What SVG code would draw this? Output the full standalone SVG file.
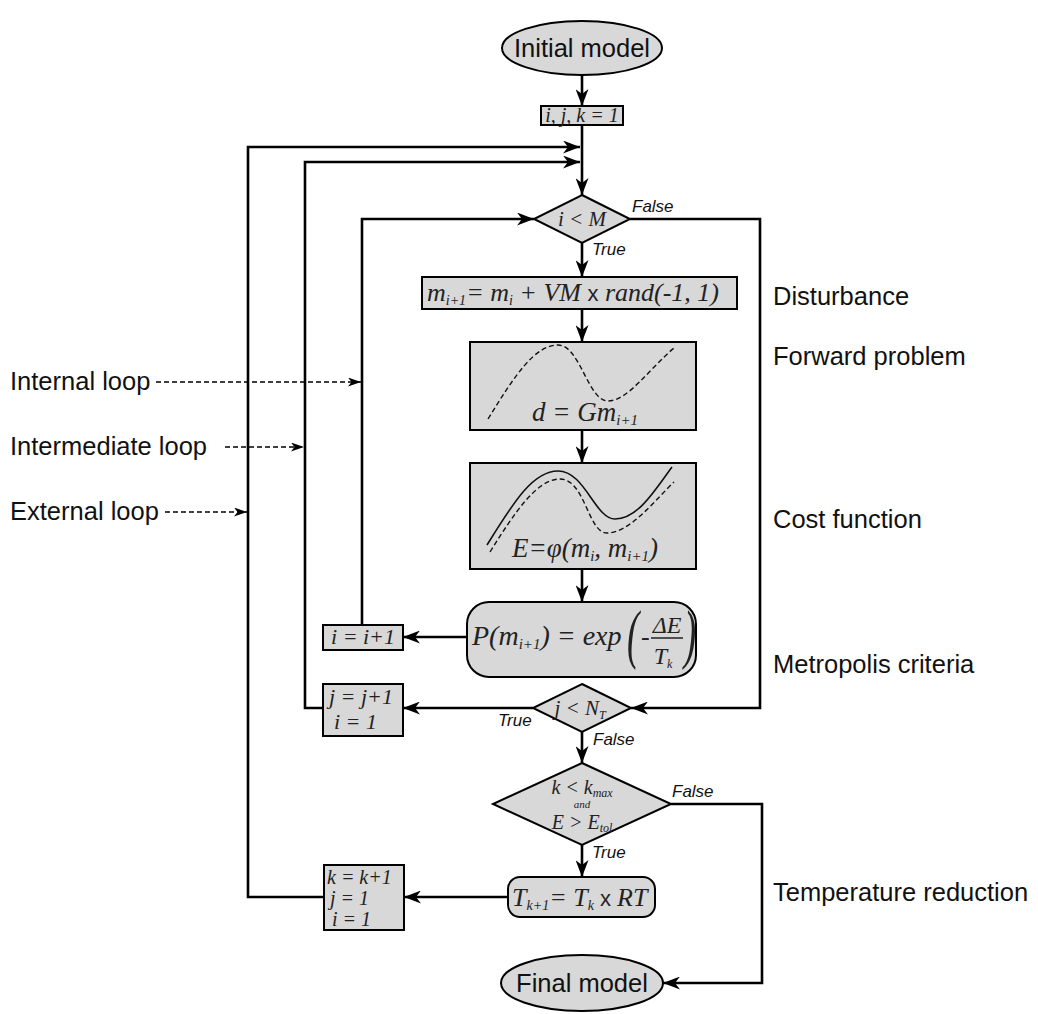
<svg xmlns="http://www.w3.org/2000/svg" width="1038" height="1014" viewBox="0 0 1038 1014">
<style>
.box{fill:#d8d8d8;stroke:#000;stroke-width:2}
.ln{fill:none;stroke:#000;stroke-width:2.6}
.dl{fill:none;stroke:#000;stroke-width:1.5;stroke-dasharray:5 3}
.lbl{font-family:"Liberation Sans",Arial,sans-serif;font-size:25.5px;fill:#111}
.tf{font-family:"Liberation Sans",Arial,sans-serif;font-size:17px;font-style:italic;fill:#111}
.m{font-family:"Liberation Serif","Times New Roman",serif;font-style:italic;fill:#222}
.up{font-family:"Liberation Sans",Arial,sans-serif;font-style:normal}
.cv{fill:none;stroke:#111;stroke-width:1.6}
.cd{fill:none;stroke:#111;stroke-width:1.4;stroke-dasharray:5 3}
</style>
<defs>
<marker id="ah" markerUnits="userSpaceOnUse" markerWidth="17" markerHeight="13" refX="17" refY="6.5" orient="auto"><path d="M0,0 L17,6.5 L0,13 L5,6.5 z" fill="#000"/></marker>
<marker id="ahs" markerUnits="userSpaceOnUse" markerWidth="13" markerHeight="9" refX="13" refY="4.5" orient="auto"><path d="M0,0 L13,4.5 L0,9 L3.5,4.5 z" fill="#000"/></marker>
</defs>

<g id="connectors">
<path class="ln" d="M582,75 V106" marker-end="url(#ah)"/>
<path class="ln" d="M582,125 V195" marker-end="url(#ah)"/>
<path class="ln" d="M324,897 H248 V147 H580" marker-end="url(#ah)"/>
<path class="ln" d="M323,708 H305 V162 H580" marker-end="url(#ah)"/>
<path class="ln" d="M362,625 V219 H534" marker-end="url(#ah)"/>
<path class="ln" d="M582,243 V277" marker-end="url(#ah)"/>
<path class="ln" d="M630,219 H760 V708 H631" marker-end="url(#ah)"/>
<path class="ln" d="M582,309 V342" marker-end="url(#ah)"/>
<path class="ln" d="M582,430 V463" marker-end="url(#ah)"/>
<path class="ln" d="M582,569 V602" marker-end="url(#ah)"/>
<path class="ln" d="M467,637 H403" marker-end="url(#ah)"/>
<path class="ln" d="M533,708 H403" marker-end="url(#ah)"/>
<path class="ln" d="M582,732 V763" marker-end="url(#ah)"/>
<path class="ln" d="M582,845 V877" marker-end="url(#ah)"/>
<path class="ln" d="M508,897 H404" marker-end="url(#ah)"/>
<path class="ln" d="M671,804 H762 V983 H663" marker-end="url(#ah)"/>
<path class="dl" d="M156,382 H361" marker-end="url(#ahs)"/>
<path class="dl" d="M225,447 H304" marker-end="url(#ahs)"/>
<path class="dl" d="M165,512 H247" marker-end="url(#ahs)"/>
<text class="tf" x="632" y="212">False</text>
<text class="tf" x="592" y="255">True</text>
<text class="tf" x="498" y="726">True</text>
<text class="tf" x="593" y="745">False</text>
<text class="tf" x="672" y="797">False</text>
<text class="tf" x="592" y="858">True</text>
</g>

<g id="initial">
<ellipse class="box" cx="582" cy="48" rx="80" ry="27"/>
<text class="lbl" x="582" y="57" text-anchor="middle">Initial model</text>
</g>

<g id="init-counters">
<rect class="box" x="541" y="106" width="82" height="19"/>
<text class="m" x="582" y="122" font-size="20" text-anchor="middle">i, j, k = 1</text>
</g>

<g id="cond-i">
<polygon class="box" points="582,195 630,219 582,243 534,219"/>
<text class="m" x="582" y="226" font-size="21" text-anchor="middle">i &lt; M</text>
</g>

<g id="disturbance">
<rect class="box" x="422" y="277" width="315" height="32"/>
<text class="m" x="427" y="301" font-size="26">m<tspan font-size="14" dy="4">i+1</tspan><tspan dy="-4">= m</tspan><tspan font-size="14" dy="4">i</tspan><tspan dy="-4"> + VM </tspan><tspan class="up" font-size="22">x</tspan><tspan> rand(-1, 1)</tspan></text>
</g>

<g id="forward">
<rect class="box" x="470" y="342" width="226" height="88"/>
<path class="cd" d="M488,419 C515,375 535,345 558,345 C580,345 588,401 608,401 C628,401 650,368 674,348"/>
<text class="m" x="532" y="421" font-size="27">d = Gm<tspan font-size="15" dy="4">i+1</tspan></text>
</g>

<g id="cost">
<rect class="box" x="470" y="463" width="226" height="106"/>
<path class="cv" d="M487,545 C512,505 532,471 558,471 C585,471 595,519 615,519 C638,519 655,490 672,467"/>
<path class="cd" d="M490,552 C515,512 537,479 560,479 C585,479 588,533 607,533 C630,533 655,500 674,482"/>
<text class="m" x="512" y="557" font-size="27">E=φ(m<tspan font-size="15" dy="4">i</tspan><tspan dy="-4">, m</tspan><tspan font-size="15" dy="4">i+1</tspan><tspan dy="-4">)</tspan></text>
</g>

<g id="metropolis">
<rect class="box" x="467" y="602" width="229" height="75" rx="22"/>
<text class="m" x="472" y="645" font-size="28">P(m<tspan font-size="15" dy="4">i+1</tspan><tspan dy="-4">) = exp</tspan></text>
<text class="m" x="627" y="655" font-size="52" font-style="normal" transform="translate(627,652) scale(0.7,1.25) translate(-627,-652)">(</text>
<text class="m" x="641" y="645" font-size="26">-</text>
<text class="m" x="667" y="633" font-size="24" text-anchor="middle">ΔE</text>
<line x1="651" y1="638" x2="683" y2="638" stroke="#222" stroke-width="1.5"/>
<text class="m" x="663" y="664" font-size="24" text-anchor="middle">T<tspan font-size="12" dy="4">k</tspan></text>
<text class="m" x="684" y="655" font-size="52" font-style="normal" transform="translate(684,652) scale(0.7,1.25) translate(-684,-652)">)</text>
</g>

<g id="inc-i">
<rect class="box" x="323" y="625" width="80" height="25"/>
<text class="m" x="363" y="644" font-size="22" text-anchor="middle">i = i+1</text>
</g>

<g id="cond-j">
<polygon class="box" points="582,684 631,708 582,732 533,708"/>
<text class="m" x="580" y="715" font-size="21" text-anchor="middle">j &lt; N<tspan font-size="12" dy="4">T</tspan></text>
</g>

<g id="inc-j">
<rect class="box" x="323" y="684" width="80" height="52"/>
<text class="m" x="329" y="704" font-size="22">j = j+1</text>
<text class="m" x="334" y="729" font-size="22">i = 1</text>
</g>

<g id="cond-k">
<polygon class="box" points="582,763 671,804 582,845 493,804"/>
<text class="m" x="582" y="794" font-size="20" text-anchor="middle">k &lt; k<tspan font-size="12" dy="3">max</tspan></text>
<text class="m" x="582" y="808" font-size="11" text-anchor="middle">and</text>
<text class="m" x="582" y="829" font-size="20" text-anchor="middle">E &gt; E<tspan font-size="12" dy="3">tol</tspan></text>
</g>

<g id="temperature">
<rect class="box" x="508" y="877" width="147" height="40" rx="12"/>
<text class="m" x="512" y="906" font-size="26">T<tspan font-size="14" dy="4">k+1</tspan><tspan dy="-4">= T</tspan><tspan font-size="14" dy="4">k</tspan><tspan dy="-4" class="up" font-size="22"> x </tspan><tspan>RT</tspan></text>
</g>

<g id="inc-k">
<rect class="box" x="324" y="865" width="80" height="65"/>
<text class="m" x="327" y="884" font-size="20">k = k+1</text>
<text class="m" x="330" y="905" font-size="20">j = 1</text>
<text class="m" x="332" y="926" font-size="20">i = 1</text>
</g>

<g id="final">
<ellipse class="box" cx="582" cy="983" rx="81" ry="28"/>
<text class="lbl" x="582" y="992" text-anchor="middle">Final model</text>
</g>

<g id="labels">
<text class="lbl" x="773" y="305">Disturbance</text>
<text class="lbl" x="773" y="365">Forward problem</text>
<text class="lbl" x="773" y="528">Cost function</text>
<text class="lbl" x="773" y="673">Metropolis criteria</text>
<text class="lbl" x="773" y="901">Temperature reduction</text>
<text class="lbl" x="10" y="390">Internal loop</text>
<text class="lbl" x="10" y="455">Intermediate loop</text>
<text class="lbl" x="10" y="520">External loop</text>
</g>
</svg>
